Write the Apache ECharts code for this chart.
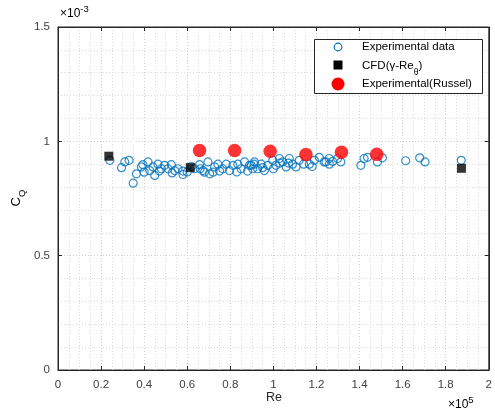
<!DOCTYPE html>
<html><head><meta charset="utf-8">
<script src="https://cdn.jsdelivr.net/npm/echarts@6/dist/echarts.min.js"></script>
<style>html,body{margin:0;padding:0;background:#fff}#c{width:495px;height:414px}</style>
</head><body><div id="c"></div>
<script>
// x in units of 1e5, y in units of 1e-3
const expRe = [0.241,0.295,0.31,0.33,0.349,0.364,0.387,0.394,0.418,0.426,0.441,0.449,0.464,0.48,0.495,0.51,0.526,0.542,
  0.557,0.58,0.634,0.657,0.673,0.696,0.704,0.727,0.742,0.765,0.781,0.796,0.812,0.835,0.85,0.866,0.889,0.904,
  0.897,0.912,0.927,0.943,0.958,0.974,0.997,1.012,1.028,1.043,1.059,1.074,1.089,1.105,1.12,1.167,1.19,1.213,1.236,
  1.244,1.259,1.275,1.298,1.313,1.406,1.421,1.437,1.483,1.506,1.614,1.679,1.704,1.872,
  0.40,0.47,0.53,0.60,0.62,0.68,0.75,0.83,0.88,0.95,1.00,1.07,1.14,1.18,1.26,0.58,0.66,0.72,0.91,1.03];
const expCq = [0.917,0.885,0.91,0.917,0.817,0.858,0.888,0.898,0.91,0.872,0.888,0.851,0.9,0.88,0.895,0.88,0.898,0.872,
  0.88,0.855,0.88,0.898,0.872,0.91,0.858,0.888,0.9,0.88,0.9,0.872,0.895,0.9,0.88,0.91,0.895,0.88,
  0.895,0.91,0.88,0.9,0.872,0.895,0.917,0.895,0.925,0.91,0.888,0.925,0.9,0.888,0.917,0.9,0.917,0.93,0.91,
  0.91,0.925,0.912,0.925,0.91,0.895,0.925,0.93,0.91,0.928,0.915,0.928,0.91,0.917,
  0.865,0.87,0.862,0.866,0.89,0.865,0.87,0.866,0.87,0.885,0.88,0.905,0.9,0.89,0.9,0.87,0.88,0.865,0.9,0.905];
const cfdRe = [0.236,0.614,1.873];
const cfdCq = [0.935,0.885,0.882];
const rusRe = [0.657,0.82,0.985,1.151,1.316,1.48];
const rusCq = [0.96,0.96,0.957,0.942,0.952,0.943];
const xTicks = [0,0.2,0.4,0.6,0.8,1,1.2,1.4,1.6,1.8,2];
const yTicks = [0,0.5,1,1.5];

const zip = (a,b)=>a.map((v,i)=>[v,b[i]]);
const font = 'Liberation Sans, Arial, sans-serif';
const axisCol = '#262626';
const gridLine = {show:true, lineStyle:{color:'#cfcfcf', type:[1,2], width:1}};
const minorLine = {show:true, lineStyle:{color:'#dcdcdc', type:[1,2], width:1}};
const chart = echarts.init(document.getElementById('c'));
const baseX = {type:'value', min:xTicks[0], max:xTicks[xTicks.length-1], interval:0.2,
  axisLine:{show:true,onZero:false,lineStyle:{color:axisCol}},
  axisTick:{show:true,inside:true,length:4,lineStyle:{color:axisCol}}};
const baseY = {type:'value', min:yTicks[0], max:yTicks[yTicks.length-1], interval:0.5,
  axisLine:{show:true,onZero:false,lineStyle:{color:axisCol}},
  axisTick:{show:true,inside:true,length:4,lineStyle:{color:axisCol}}};
chart.setOption({
  animation:false,
  backgroundColor:'#fff',
  grid:{left:58,right:5,top:27,bottom:44,show:true,borderColor:axisCol,borderWidth:1,containLabel:false},
  xAxis:[
    Object.assign({}, baseX, {position:'bottom',
      axisLabel:{color:'#404040',fontSize:11.5,fontFamily:font,margin:9,formatter:v=>String(+v.toFixed(1))},
      splitLine:gridLine, minorTick:{show:true,splitNumber:4,length:0}, minorSplitLine:minorLine}),
    Object.assign({}, baseX, {position:'top', axisLabel:{show:false}, splitLine:{show:false}})
  ],
  yAxis:[
    Object.assign({}, baseY, {position:'left',
      axisLabel:{color:'#404040',fontSize:11.5,fontFamily:font,margin:8,formatter:v=>String(+v.toFixed(1))},
      splitLine:gridLine, minorTick:{show:true,splitNumber:5,length:0}, minorSplitLine:minorLine}),
    Object.assign({}, baseY, {position:'right', axisLabel:{show:false}, splitLine:{show:false}})
  ],
  series:[
    {name:'Experimental data', type:'scatter', data:zip(expRe,expCq), symbol:'circle', symbolSize:8,
      itemStyle:{color:'rgba(0,0,0,0)', borderColor:'#0072BD', borderWidth:1.2}, z:2},
    {name:'CFD', type:'scatter', data:zip(cfdRe,cfdCq), symbol:'rect', symbolSize:9,
      itemStyle:{color:'#000'}, z:3},
    {name:'Russel', type:'scatter', data:zip(rusRe,rusCq), symbol:'circle', symbolSize:13.5,
      itemStyle:{color:'#ff0000'}, z:4}
  ],
  graphic:[
    {type:'rect', shape:{x:314.5,y:39.5,width:168,height:54}, style:{fill:'#fff',stroke:axisCol,lineWidth:1}, z:10},
    {type:'circle', shape:{cx:338,cy:47,r:3.8}, style:{fill:'none',stroke:'#0072BD',lineWidth:1.2}, z:11},
    {type:'rect', shape:{x:333.5,y:60.5,width:9,height:9}, style:{fill:'#000'}, z:11},
    {type:'circle', shape:{cx:338,cy:84,r:6.5}, style:{fill:'#ff0000'}, z:11},
    {type:'text', x:362, y:47, z:11, style:{text:'Experimental data', font:'11.5px '+font, fill:'#000', verticalAlign:'middle'}},
    {type:'text', x:362, y:66, z:11, style:{text:'{a|CFD(γ-Re}{s|θ}{a|)}', verticalAlign:'middle',
      rich:{a:{fontSize:11.5,fontFamily:font,color:'#000'}, s:{fontSize:8.5,fontFamily:font,color:'#000',padding:[14,0,0,0]}}}},
    {type:'text', x:362, y:84, z:11, style:{text:'Experimental(Russel)', font:'11.5px '+font, fill:'#000', verticalAlign:'middle'}},
    {type:'text', x:60, y:14, z:11, style:{text:'{a|×10}{b|-3}', verticalAlign:'middle',
      rich:{a:{fontSize:12,fontFamily:font,color:'#404040'}, b:{fontSize:9.5,fontFamily:font,color:'#404040',padding:[0,0,10,0]}}}},
    {type:'text', x:448, y:405, z:11, style:{text:'{a|×10}{b|5}', verticalAlign:'middle',
      rich:{a:{fontSize:12,fontFamily:font,color:'#404040'}, b:{fontSize:9.5,fontFamily:font,color:'#404040',padding:[0,0,10,0]}}}},
    {type:'text', x:274, y:398, z:11, style:{text:'Re', font:'12.5px '+font, fill:'#262626', align:'center', verticalAlign:'middle'}},
    {type:'text', x:16, y:198, rotation:Math.PI/2, z:11, style:{text:'{a|C}{s|Q}', align:'center', verticalAlign:'middle',
      rich:{a:{fontSize:13,fontFamily:font,color:'#262626'}, s:{fontSize:9.5,fontFamily:font,color:'#262626',padding:[12,0,0,0]}}}}
  ]
});
</script></body></html>
